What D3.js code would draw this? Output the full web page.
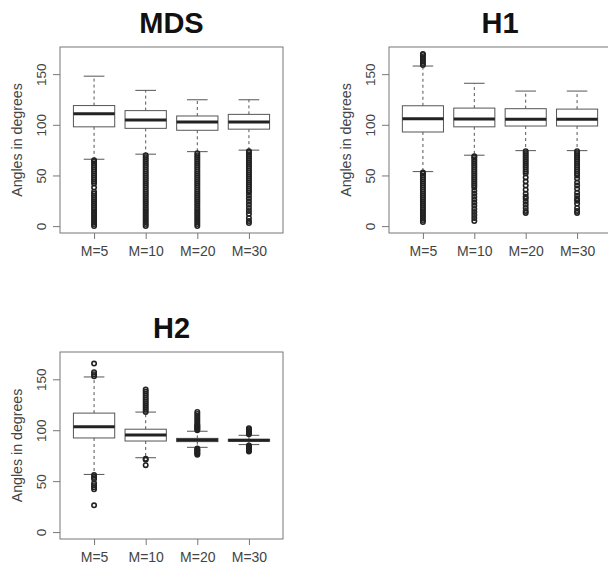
<!DOCTYPE html>
<html>
<head>
<meta charset="utf-8">
<script src="https://cdn.jsdelivr.net/npm/d3@7"></script>
<style>
  body { margin: 0; background: #fff; }
  svg { display: block; font-family: "Liberation Sans", Arial, Helvetica, sans-serif; }
</style>
</head>
<body>
<script>
// categories and tick labels
const categories = ["M=5", "M=10", "M=20", "M=30"];
const yTicks = [0, 50, 100, 150];
const yLabel = "Angles in degrees";

// box stats per category: [lower whisker, Q1, median, Q3, upper whisker]
const mdsStats = [
    [66, 98, 111, 119, 148],
    [71, 96.5, 104.7, 114, 134],
    [73.5, 94.6, 102.7, 108.7, 124.7],
    [75, 95.7, 102.8, 110.3, 124.7]
];
const mdsOutliers = [
    [0, 2, 4, 6, 8, 10, 12, 14, 16, 18, 20, 22, 24, 26, 28, 30, 32, 34, 38, 42, 44, 46, 48, 50, 52, 54, 56, 58, 60, 62, 64, 65],
    [0, 2, 4, 6, 8, 10, 12, 14, 16, 18, 20, 22, 24, 26, 28, 30, 32, 34, 36, 38, 40, 42, 44, 46, 48, 50, 52, 54, 56, 58, 60, 62, 64, 66, 68, 70],
    [0, 2, 4, 6, 8, 10, 12, 14, 16, 18, 20, 22, 24, 26, 28, 30, 32, 34, 36, 38, 40, 42, 44, 46, 48, 50, 52, 54, 56, 58, 60, 62, 64, 66, 68, 70, 72],
    [3, 5, 8, 12, 15, 18, 21, 24, 27, 30, 33, 35, 37, 39, 41, 43, 45, 47, 49, 51, 53, 55, 57, 59, 61, 63, 65, 67, 69, 71, 73, 74]
];

const h1Stats = [
    [53.8, 92.9, 106, 118.8, 158],
    [70, 98, 105.7, 116.5, 141],
    [74.5, 98.8, 105.4, 115.9, 133.3],
    [74.5, 98.8, 105.4, 115.5, 133.3]
];
const h1Outliers = [
    [4, 6, 8, 10, 12, 14, 16, 18, 20, 22, 24, 26, 28, 30, 32, 34, 36, 38, 40, 42, 44, 46, 48, 50, 52, 53, 159, 161, 163, 165, 167, 169, 170],
    [5, 8, 11, 14, 17, 20, 23, 26, 29, 32, 35, 38, 40, 42, 44, 46, 48, 50, 52, 54, 56, 58, 60, 62, 64, 66, 68, 69],
    [13, 15, 18, 21, 24, 27, 29, 32, 36, 40, 44, 48, 52, 54, 56, 58, 60, 62, 64, 66, 68, 70, 72, 74],
    [13, 15, 18, 22, 25, 27, 30, 33, 37, 40, 43, 47, 50, 52, 54, 56, 58, 60, 62, 64, 66, 68, 70, 72, 74]
];

const h2Stats = [
    [56.6, 92.4, 103.3, 116.8, 152.3],
    [73, 89.4, 95.4, 101, 117.8],
    [83.2, 88.8, 90.4, 92, 99],
    [85.9, 89.2, 90.1, 91, 95]
];
const h2Outliers = [
    [26.3, 42, 44, 46, 48, 52, 54, 56, 153, 155, 157, 165.4],
    [65.7, 71, 72, 118, 120, 122, 124, 126, 128, 130, 132, 134, 136, 138, 140],
    [76, 77, 78, 79, 80, 81, 82, 100, 101, 102, 103, 104, 105, 106, 108, 110, 112, 114, 116, 118],
    [79, 80, 81, 82, 83, 84, 85, 96, 97, 98, 99, 100, 101, 102]
];

const width = 608, height = 566;
const svg = d3.select("body").append("svg")
    .attr("width", width)
    .attr("height", height);

const panels = [
    {title: "MDS", stats: mdsStats, out: mdsOutliers, left: 60, right: 283, top: 47, bottom: 233, titleY: 33},
    {title: "H1", stats: h1Stats, out: h1Outliers, left: 389, right: 611, top: 47, bottom: 233, titleY: 33},
    {title: "H2", stats: h2Stats, out: h2Outliers, left: 60, right: 283, top: 352, bottom: 539, titleY: 338}
];

const lineCol = "#555";
const boxHalf = 0.4, capHalf = 0.2;

panels.forEach(p => {
    const x = d3.scaleLinear().domain([0.34, 4.66]).range([p.left, p.right]);
    const y = d3.scaleLinear().domain([-6.8, 176.8]).range([p.bottom, p.top]);
    const g = svg.append("g");

    // title
    g.append("text")
        .attr("x", (p.left + p.right) / 2)
        .attr("y", p.titleY)
        .attr("text-anchor", "middle")
        .attr("font-size", 29)
        .attr("font-weight", "bold")
        .attr("fill", "#111")
        .text(p.title);

    // frame
    g.append("rect")
        .attr("x", p.left).attr("y", p.top)
        .attr("width", p.right - p.left).attr("height", p.bottom - p.top)
        .attr("fill", "none").attr("stroke", "#777").attr("stroke-width", 1);

    // y axis
    const ya = g.append("g")
        .attr("transform", `translate(${p.left},0)`)
        .call(d3.axisLeft(y).tickValues(yTicks).tickSize(7).tickSizeOuter(0));
    ya.select(".domain").remove();
    ya.selectAll(".tick line").attr("stroke", "#777");
    ya.selectAll(".tick text")
        .attr("transform", "rotate(-90)")
        .attr("x", 0).attr("y", -14).attr("dy", 0)
        .attr("text-anchor", "middle")
        .attr("font-size", 13.5)
        .attr("font-family", null)
        .attr("fill", "#444");

    // x axis
    const xa = g.append("g")
        .attr("transform", `translate(0,${p.bottom})`)
        .call(d3.axisBottom(x).tickValues([1, 2, 3, 4]).tickFormat((d, i) => categories[i]).tickSize(6).tickSizeOuter(0));
    xa.select(".domain").remove();
    xa.selectAll(".tick line").attr("stroke", "#777");
    xa.selectAll(".tick text")
        .attr("y", 23).attr("dy", 0)
        .attr("font-size", 14)
        .attr("font-family", null)
        .attr("fill", "#444");

    // y label
    g.append("text")
        .attr("transform", `translate(${p.left - 38},${(p.top + p.bottom) / 2}) rotate(-90)`)
        .attr("text-anchor", "middle")
        .attr("font-size", 14.2)
        .attr("fill", "#444")
        .text(yLabel);

    // boxes
    p.stats.forEach((s, i) => {
        const c = i + 1;
        const [lo, q1, med, q3, hi] = s;
        const bg = g.append("g");

        // whiskers
        [[q3, hi], [q1, lo]].forEach(([a, b]) => {
            bg.append("line")
                .attr("x1", x(c)).attr("x2", x(c))
                .attr("y1", y(a)).attr("y2", y(b))
                .attr("stroke", lineCol).attr("stroke-dasharray", "3,3");
            bg.append("line")
                .attr("x1", x(c - capHalf)).attr("x2", x(c + capHalf))
                .attr("y1", y(b)).attr("y2", y(b))
                .attr("stroke", lineCol);
        });

        // outliers
        bg.selectAll("circle")
            .data(p.out[i])
            .join("circle")
            .attr("cx", x(c))
            .attr("cy", d => y(d))
            .attr("r", 2.2)
            .attr("fill", "none")
            .attr("stroke", "#222")
            .attr("stroke-width", 1.6);

        // box
        bg.append("rect")
            .attr("x", x(c - boxHalf)).attr("y", y(q3))
            .attr("width", x(c + boxHalf) - x(c - boxHalf))
            .attr("height", y(q1) - y(q3))
            .attr("fill", "#fff").attr("stroke", lineCol);

        // median
        bg.append("line")
            .attr("x1", x(c - boxHalf)).attr("x2", x(c + boxHalf))
            .attr("y1", y(med)).attr("y2", y(med))
            .attr("stroke", "#222").attr("stroke-width", 3);
    });
});
</script>
</body>
</html>
